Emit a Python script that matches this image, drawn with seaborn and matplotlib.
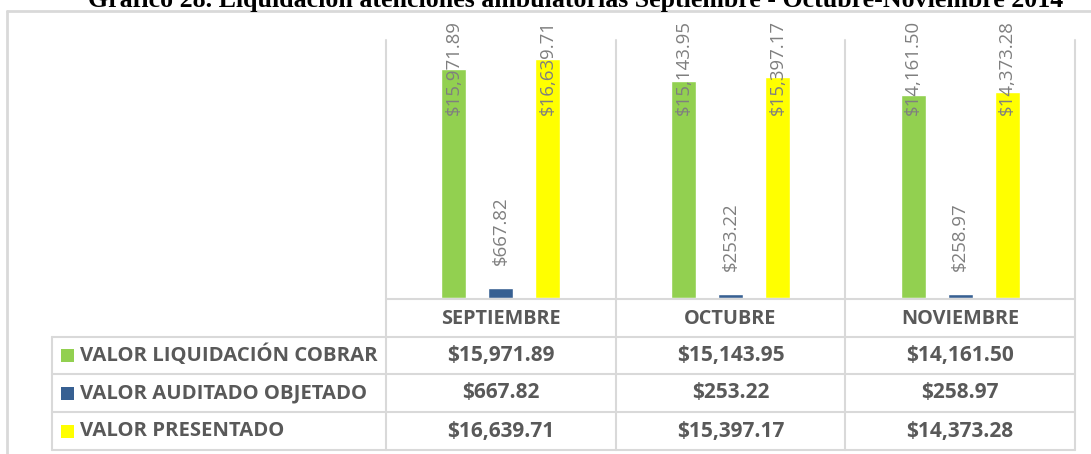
import numpy as np
import pandas as pd
import matplotlib
matplotlib.use("Agg")
import matplotlib.pyplot as plt
import seaborn as sns
from matplotlib.lines import Line2D
from matplotlib.patches import Rectangle

# ---------------- data ----------------
months = ["SEPTIEMBRE", "OCTUBRE", "NOVIEMBRE"]
series = ["VALOR LIQUIDACIÓN COBRAR", "VALOR AUDITADO OBJETADO", "VALOR PRESENTADO"]
liquidacion = [15971.89, 15143.95, 14161.50]
auditado = [667.82, 253.22, 258.97]
presentado = [16639.71, 15397.17, 14373.28]
colors = ["#92D050", "#376092", "#FFFF00"]
title = "Gráfico 28. Liquidación atenciones ambulatorias Septiembre - Octubre-Noviembre 2014"

values = [liquidacion, auditado, presentado]
rows = []
for i, m in enumerate(months):
    for j, s in enumerate(series):
        rows.append({"mes": m, "serie": s, "valor": values[j][i]})
df = pd.DataFrame(rows)

# ---------------- figure ----------------
W, H = 1091, 454
sns.set_style("white")
plt.rcParams["font.family"] = ["Open Sans", "DejaVu Sans"]

fig = plt.figure(figsize=(W / 100, H / 100), dpi=100)


def fx(x):
    return x / W


def fy(y):
    return 1 - y / H


GRID = "#D9D9D9"
TXT = "#595959"
LBL = "#7F7F7F"

ax_left, ax_right, ax_top, ax_bot = 386, 1075, 40, 298
ax = fig.add_axes([fx(ax_left), fy(ax_bot), (ax_right - ax_left) / W, (ax_bot - ax_top) / H])
sns.barplot(data=df, x="mes", y="valor", hue="serie", order=months, hue_order=series,
            palette=colors, saturation=1, width=0.613, gap=0.47, errorbar=None,
            legend=False, ax=ax)
ymax = 18000
ax.set_ylim(0, ymax)
ax.set_xlim(-0.5, len(months) - 0.5)
ax.axis("off")

PX = 0.72  # points per pixel at dpi 100
for j, cont in enumerate(ax.containers):
    for i, bar in enumerate(cont):
        v = values[j][i]
        xc = bar.get_x() + bar.get_width() / 2
        txt = f"${v:,.2f}"
        if v > ymax * 0.5:
            ax.annotate(txt, xy=(xc, 1), xycoords=("data", "axes fraction"),
                        xytext=(0, 20 * PX), textcoords="offset points",
                        rotation=90, ha="center", va="top", color=LBL,
                        fontsize=13.4, annotation_clip=False)
        else:
            ax.annotate(txt, xy=(xc, v), xytext=(0, 23 * PX), textcoords="offset points",
                        rotation=90, ha="center", va="bottom", color=LBL,
                        fontsize=13.4, annotation_clip=False)


def hline(x1, x2, y, color=GRID, lw=1.5):
    fig.add_artist(Line2D([fx(x1), fx(x2)], [fy(y), fy(y)], color=color, lw=lw,
                          transform=fig.transFigure))


def vline(x, y1, y2, color=GRID, lw=1.5):
    fig.add_artist(Line2D([fx(x), fx(x)], [fy(y1), fy(y2)], color=color, lw=lw,
                          transform=fig.transFigure))


# chart border
hline(7, W, 11, lw=2)
vline(7, 11, H, lw=2)


def data_to_px(xd):
    disp = ax.transData.transform((xd, 0))
    return disp[0]


edges = [data_to_px(-0.5 + k) for k in range(len(months) + 1)]
table_left = 52
row_lines = [337, 374, 412, 450]
header_y = 318.5

hline(ax_left, ax_right, 299)
for y in row_lines:
    hline(table_left, ax_right, y)
for e in edges:
    vline(e, ax_top, row_lines[-1])
vline(table_left, row_lines[0], row_lines[-1])

for k, m in enumerate(months):
    cx = (edges[k] + edges[k + 1]) / 2
    fig.text(fx(cx), fy(header_y), m, ha="center", va="center", color=TXT,
             fontsize=14.3, fontweight="bold")

for j, s in enumerate(series):
    cy = (row_lines[j] + row_lines[j + 1]) / 2
    fig.add_artist(Rectangle((fx(61), fy(cy + 6.5)), 13 / W, 13 / H, transform=fig.transFigure,
                             facecolor=colors[j], edgecolor="none"))
    fig.text(fx(80), fy(cy), s, ha="left", va="center", color=TXT,
             fontsize=14.6, fontweight="bold")
    for k in range(len(months)):
        cx = (edges[k] + edges[k + 1]) / 2
        fig.text(fx(cx), fy(cy), f"${values[j][k]:,.2f}", ha="center", va="center",
                 color=TXT, fontsize=15, fontweight="bold")

fig.text(fx(575.5), fy(7), title, ha="center", va="baseline", color="#000000",
         fontsize=18.6, fontweight="bold", family=["Liberation Serif", "DejaVu Serif"])

fig.savefig("out.png", dpi=100)
